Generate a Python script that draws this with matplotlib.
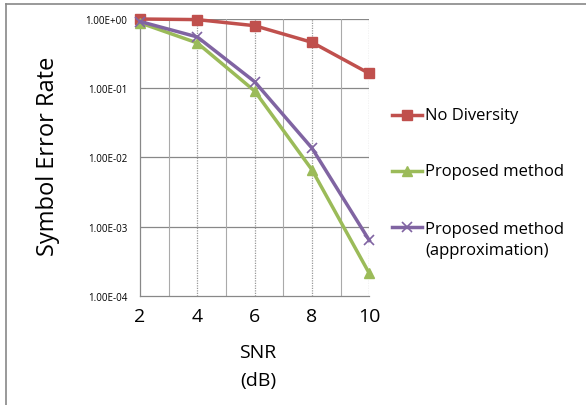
import matplotlib
matplotlib.use("Agg")
import matplotlib.pyplot as plt
from matplotlib.lines import Line2D

snr = [2, 4, 6, 8, 10]
no_diversity = [1.0, 0.98, 0.80, 0.46, 0.163]
proposed = [0.88, 0.45, 0.091, 0.0066, 2.1e-4]
approx = [0.92, 0.55, 0.124, 0.0136, 6.3e-4]
ytick_vals = [1e0, 1e-1, 1e-2, 1e-3, 1e-4]
ytick_labels = ["1.00E+00", "1.00E-01", "1.00E-02", "1.00E-03", "1.00E-04"]
xtick_labels = ["2", "4", "6", "8", "10"]
series_names = ["No Diversity", "Proposed method", "Proposed method\n(approximation)"]

plt.rcParams['font.family'] = ['Open Sans', 'DejaVu Sans']

W, H = 586, 406
fig = plt.figure(figsize=(W / 100, H / 100), dpi=100)
ax = fig.add_axes([140 / W, 1 - 296.7 / H, (369.3 - 140) / W, (296.7 - 20) / H])

ax.set_yscale('log')
ax.set_ylim(1e-4, 1e0)
ax.set_xlim(2, 10)

grid_c = '#888888'
for y in ytick_vals[:-1]:
    ax.axhline(y, color=grid_c, lw=0.9, zorder=1)
for x in [3, 5, 7, 9]:
    ax.axvline(x, color='#aaaaaa', lw=0.8, zorder=1)
for x in [4, 6, 8, 10]:
    ax.axvline(x, color='#999999', lw=0.9, ls=(0, (1, 1)), zorder=1)

colors = ['#C0504D', '#9BBB59', '#8064A2']
markers = ['s', '^', 'x']
series = [no_diversity, proposed, approx]
for vals, c, m, z in zip(series, colors, markers, [3, 3, 4]):
    ax.plot(snr, vals, color=c, lw=2.5, marker=m, ms=7, mew=1.2 if m == 'x' else 1.0,
            zorder=z, clip_on=False)

for s in ['top', 'right']:
    ax.spines[s].set_visible(False)
for s in ['left', 'bottom']:
    ax.spines[s].set_color('#888888')
    ax.spines[s].set_linewidth(0.9)

ax.set_yticks(ytick_vals)
ax.set_yticklabels(ytick_labels, fontsize=7)
ax.yaxis.set_minor_locator(matplotlib.ticker.NullLocator())
ax.set_xticks(snr)
ax.set_xticklabels(xtick_labels, fontsize=14)
ax.tick_params(axis='both', length=0, pad=9)
ax.tick_params(axis='x', pad=8)

fig.text(258 / W, 1 - 353 / H, "SNR", ha='center', va='center', fontsize=14)
fig.text(258 / W, 1 - 381 / H, "(dB)", ha='center', va='center', fontsize=14)
fig.text(48 / W, 1 - 156 / H, "Symbol Error Rate", ha='center', va='center', rotation=90, fontsize=17)

leg_y = [116, 172, 228]
for name, c, m, y in zip(series_names, colors, markers, leg_y):
    yf = 1 - y / H
    fig.add_artist(Line2D([392 / W, 422 / W], [yf, yf], color=c, lw=2.5))
    fig.add_artist(Line2D([407 / W], [yf], color=c, marker=m, ms=7,
                          mew=1.2 if m == 'x' else 1.0, lw=0))
    if '\n' in name:
        fig.text(425 / W, 1 - (y - 6) / H, name, ha='left', va='top', fontsize=12, linespacing=1.45)
    else:
        fig.text(425 / W, yf, name, ha='left', va='center', fontsize=12)

fig.add_artist(Line2D([5.5 / W, 5.5 / W], [0, 1 - 4.5 / H], color='#888888', lw=1.2))
fig.add_artist(Line2D([5.5 / W, 1], [1 - 4.5 / H, 1 - 4.5 / H], color='#888888', lw=1.2))

fig.savefig("out.png", dpi=100)
